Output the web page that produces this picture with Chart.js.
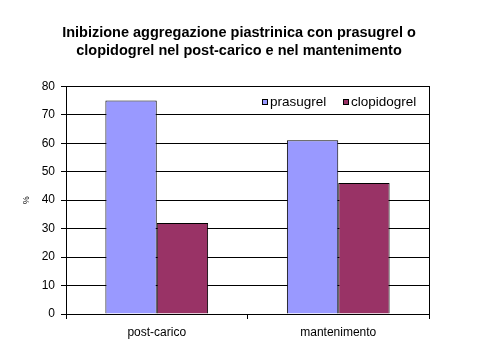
<!DOCTYPE html>
<html><head><meta charset="utf-8">
<script src="https://cdn.jsdelivr.net/npm/chart.js@4/dist/chart.umd.min.js"></script>
<style>html,body{margin:0;padding:0;background:#fff}#wrap{width:478px;height:357px}</style>
</head><body><div id="wrap"><canvas id="c" width="478" height="357"></canvas></div>
<script>
const categories = ["post-carico", "mantenimento"];
const prasugrel = [75, 61];
const clopidogrel = [32, 46];
const yTicks = [0, 10, 20, 30, 40, 50, 60, 70, 80];
const titleLines = ["Inibizione aggregazione piastrinica con prasugrel o", "clopidogrel nel post-carico e nel mantenimento"];

const FONT = "'Liberation Sans', Arial, sans-serif";

const frame = {
  id: 'frame',
  afterDatasetsDraw(chart) {
    const {ctx, chartArea: a} = chart;
    ctx.save();
    ctx.strokeStyle = '#000';
    ctx.lineWidth = 1;
    ctx.strokeRect(Math.round(a.left) + 0.5, Math.round(a.top) + 0.5, Math.round(a.right - a.left), Math.round(a.bottom - a.top));
    // legend
    ctx.font = "13.5px " + FONT;
    ctx.textBaseline = 'middle';
    const y = Math.round(a.top) + 16;
    const xs = [262, 343];
    chart.data.datasets.forEach((ds, i) => {
      const x = xs[i];
      ctx.fillStyle = ds.backgroundColor;
      ctx.fillRect(x, y - 3, 6, 6);
      ctx.strokeStyle = '#000';
      ctx.strokeRect(x + 0.5, y - 2.5, 5, 5);
      ctx.fillStyle = '#000';
      ctx.textAlign = 'left';
      ctx.fillText(ds.label, x + 8, y);
    });
    ctx.restore();
  }
};

new Chart(document.getElementById('c'), {
  type: 'bar',
  data: {
    labels: categories,
    datasets: [
      {label: 'prasugrel', data: prasugrel, backgroundColor: '#9999FF', borderColor: '#000', borderWidth: 1},
      {label: 'clopidogrel', data: clopidogrel, backgroundColor: '#993366', borderColor: '#000', borderWidth: 1}
    ]
  },
  options: {
    responsive: false,
    animation: false,
    devicePixelRatio: 1,
    layout: {padding: {left: 0, right: 0, top: 0, bottom: 0}},
    plugins: {
      legend: {display: false},
      tooltip: {enabled: false},
      title: {
        display: true,
        text: titleLines,
        color: '#000',
        font: {family: FONT, size: 14.5, weight: 'bold', lineHeight: 1.25},
        padding: {top: 24, bottom: 26}
      }
    },
    scales: {
      x: {
        offset: true,
        grid: {display: true, drawOnChartArea: false, drawTicks: true, tickLength: 5, color: '#000', offset: true},
        border: {display: true, color: '#000'},
        ticks: {color: '#000', font: {family: FONT, size: 12}, padding: 6},
        afterFit(s) { s.height = 43; }
      },
      y: {
        min: 0, max: 80,
        afterBuildTicks(s) { s.ticks = yTicks.map(v => ({value: v})); },
        grid: {color: '#000', tickLength: 5, drawTicks: true},
        border: {display: true, color: '#000'},
        ticks: {color: '#000', font: {family: FONT, size: 12}, padding: 6},
        title: {display: true, text: '%', color: '#000', font: {family: FONT, size: 9}, padding: {top: 21, bottom: 0}},
        afterFit(s) { s.width = 66; }
      },
      y2: {
        position: 'right',
        display: true,
        grid: {display: false, drawTicks: false},
        border: {display: false},
        ticks: {display: false},
        afterFit(s) { s.width = 49; }
      }
    },
    datasets: {bar: {categoryPercentage: 0.566, barPercentage: 1}}
  },
  plugins: [frame]
});
</script></body></html>
